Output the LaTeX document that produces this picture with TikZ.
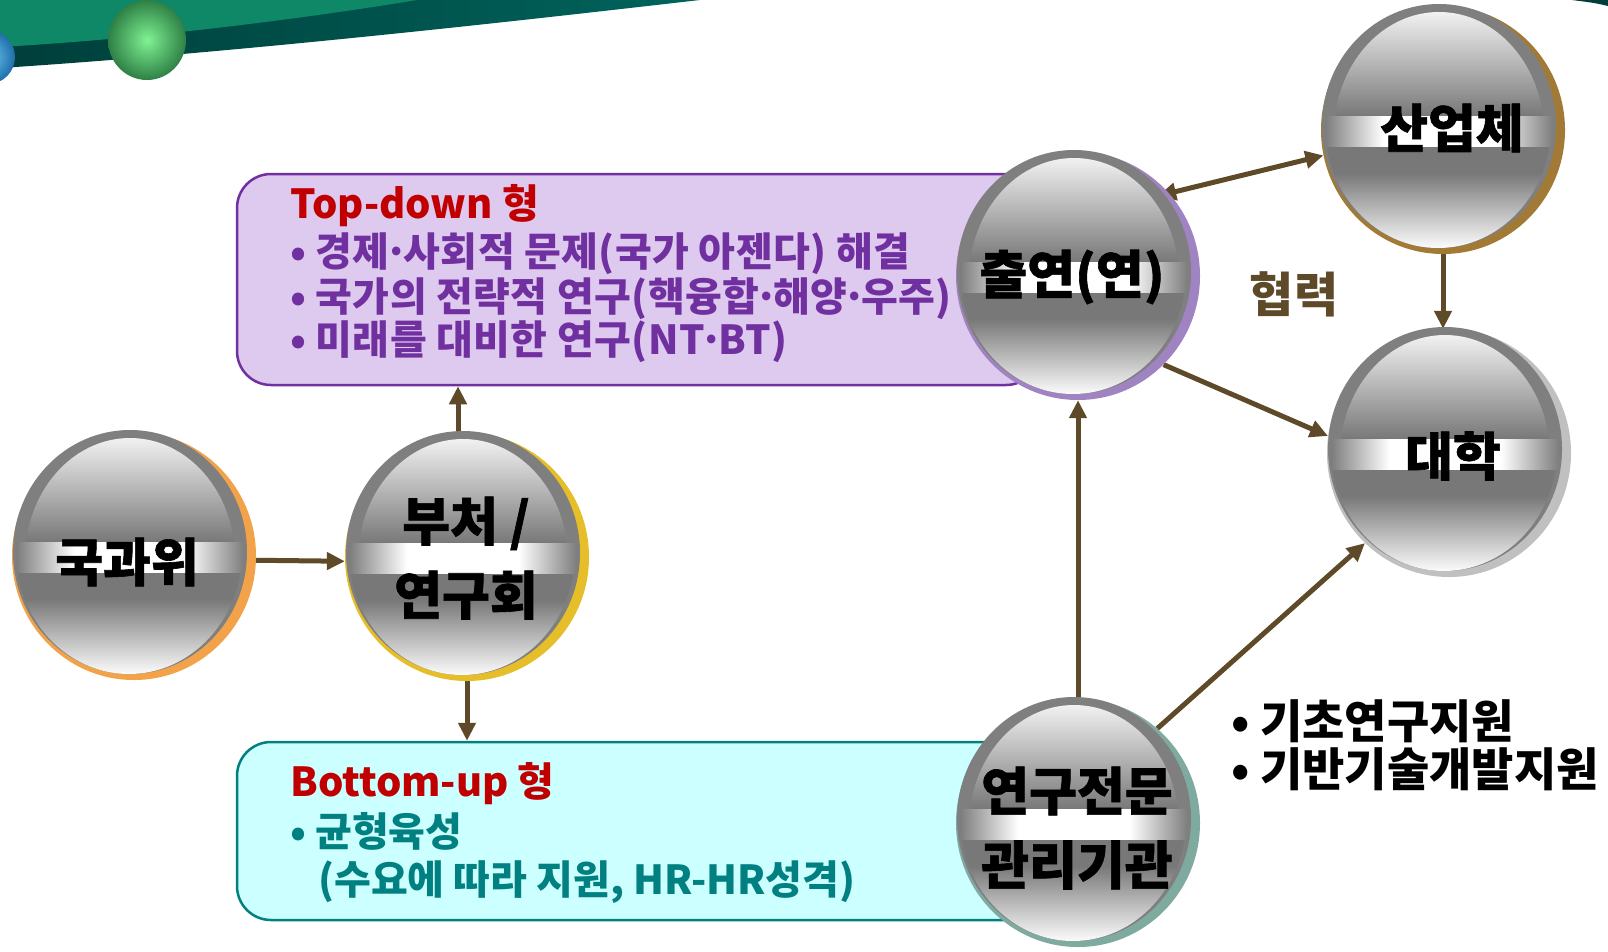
\documentclass[tikz,border=0pt]{standalone}
\usepackage{fontspec}
\newfontfamily\kr{Noto Sans CJK KR}
\newfontfamily\krsp{Noto Sans CJK KR}[LetterSpace=1]
\newfontfamily\krh{Noto Sans CJK KR}[BoldFeatures={FakeBold=1.2}]
\usetikzlibrary{shapes.geometric,arrows.meta,calc}
\definecolor{arrowc}{RGB}{94,74,40}
\definecolor{rimg}{RGB}{127,127,127}
\definecolor{gmid}{RGB}{120,120,120}
\definecolor{ringorange}{RGB}{242,163,74}
\definecolor{ringgold}{RGB}{230,190,42}
\definecolor{ringpurple}{RGB}{160,132,194}
\definecolor{ringbrown}{RGB}{162,122,53}
\definecolor{ringgray}{RGB}{192,192,192}
\definecolor{ringteal}{RGB}{127,170,160}
\definecolor{tdfill}{RGB}{222,201,239}
\definecolor{tdline}{RGB}{112,48,160}
\definecolor{bufill}{RGB}{204,255,255}
\definecolor{buline}{RGB}{0,128,128}
\definecolor{titlered}{RGB}{192,0,0}
\definecolor{swgreen}{RGB}{14,136,102}
\definecolor{swdarkl}{RGB}{0,62,58}
\definecolor{swdarkr}{RGB}{0,100,92}
\definecolor{gballin}{RGB}{127,242,147}
\definecolor{gballout}{RGB}{46,128,69}
\definecolor{bballin}{RGB}{110,200,240}
\definecolor{bballout}{RGB}{30,110,170}
\pgfdeclareverticalshading{ballup}{100bp}{color(0bp)=(gmid); color(25bp)=(gmid); color(75bp)=(white); color(100bp)=(white)}
\pgfdeclareverticalshading{balldown}{100bp}{color(0bp)=(white); color(25bp)=(white); color(62bp)=(gmid); color(100bp)=(gmid)}
\pgfdeclarehorizontalshading{ballband}{100bp}{color(0bp)=(gmid); color(25bp)=(gmid); color(38bp)=(white); color(62bp)=(white); color(75bp)=(gmid); color(100bp)=(gmid)}
\pgfdeclarelayer{back}
\pgfdeclarelayer{arrows}
\pgfdeclarelayer{balls}
\pgfsetlayers{back,arrows,balls,main}
\newcommand\ballfont{\krh\bfseries\fontsize{52}{74}\selectfont}
\newcommand\mdot{\makebox[0.35em][c]{·}}
\newcommand\drawball[2]{%
  \begin{scope}[shift={(#1.center)}]
    \fill[#2] (0,0) ellipse [x radius=122, y radius=124];
    \fill[rimg] (-4,-4) ellipse [x radius=117, y radius=122];
    \begin{scope}
      \clip (-4,3) ellipse [x radius=105, y radius=121];
      \shade[shading=ballup] (-130,-130) rectangle (130,-14);
    \end{scope}
    \begin{scope}
      \clip (-5,-4) ellipse [x radius=113, y radius=122];
      \shade[shading=balldown] (-130,16) rectangle (130,120);
    \end{scope}
    \begin{scope}
      \clip (-4,-4) ellipse [x radius=114, y radius=122];
      \shade[shading=ballband] (-120,-14) rectangle (112,16);
    \end{scope}
  \end{scope}}
\begin{document}
\begin{tikzpicture}[x=1pt,y=-1pt,
  ball/.style={shape=ellipse, minimum width=244pt, minimum height=248pt, inner sep=0pt},
  ballt/.style={font=\ballfont, align=center, inner sep=0pt, text=black},
  arr/.style={draw=arrowc, line width=5pt, -{Triangle[length=18pt,width=17pt]}},
  arrtwo/.style={draw=arrowc, line width=5pt, {Triangle[length=18pt,width=17pt]}-{Triangle[length=18pt,width=17pt]}},
  boxtitle/.style={anchor=base west, inner sep=0pt, text=titlered, font=\kr\bfseries\fontsize{40}{48}\selectfont},
  tdtext/.style={anchor=base west, inner sep=0pt, text=tdline, font=\krsp\bfseries\fontsize{40}{48}\selectfont},
  butext/.style={anchor=base west, inner sep=0pt, text=buline, font=\kr\bfseries\fontsize{40}{48}\selectfont},
  righttext/.style={anchor=base west, inner sep=0pt, text=black, font=\kr\bfseries\fontsize{46}{54}\selectfont}]
\useasboundingbox (0,0) rectangle (1608,951);

% sphere nodes
\node[ball, label={[ballt,xshift=-7pt,yshift=-6pt]center:국과위}] (kgw) at (134,556) {};
\node[ball, label={[ballt,xshift=-1pt,yshift=-1pt]center:{부처 /\\연구회}}] (bc) at (467,557) {};
\node[ball, label={[ballt,xshift=-6pt,yshift=-1pt]center:출연(연)}] (cy) at (1078,276) {};
\node[ball, label={[ballt,xshift=9pt,yshift=2pt]center:산업체}] (sy) at (1443,130) {};
\node[ball, label={[ballt,xshift=4pt,yshift=-3pt]center:대학}] (dh) at (1449,453) {};
\node[ball, label={[ballt,xshift=-1pt,yshift=-5pt]center:{연구전문\\관리기관}}] (yg) at (1078,823) {};

% background decoration and boxes
\begin{pgfonlayer}{back}
  \shade[left color=swdarkl, right color=swdarkr] (0,0) -- (700,0) .. controls (560,16) and (250,52) .. (0,68) -- cycle;
  \fill[swgreen] (0,0) -- (417,0) .. controls (320,16) and (160,38) .. (0,47) -- cycle;
  \fill[swdarkl] (1572,0) -- (1608,0) -- (1608,6) .. controls (1595,3) .. (1572,0) -- cycle;
  \shade[inner color=bballin, outer color=bballout] (-12,57) circle [radius=27];
  \shade[inner color=gballin, outer color=gballout] (147,40) ellipse [x radius=39, y radius=40];
  \node[draw=tdline, fill=tdfill, line width=2.5pt, rounded corners=34pt, minimum width=803pt, minimum height=211pt, inner sep=0pt] (td) at (638.5,279.5) {};
  \node[draw=buline, fill=bufill, line width=2.5pt, rounded corners=34pt, minimum width=803pt, minimum height=178pt, inner sep=0pt] (bu) at (638.5,831) {};
\end{pgfonlayer}

% box texts
\node[boxtitle] (tdt) at (290,218) {Top-down 형};
\node[tdtext] (td1) at (290,266) {• 경제\mdot 사회적 문제(국가 아젠다) 해결};
\node[tdtext] (td2) at (290,311) {• 국가의 전략적 연구(핵융합\mdot 해양\mdot 우주)};
\node[tdtext] (td3) at (290,354) {• 미래를 대비한 연구(NT\mdot BT)};
\node[boxtitle] (but) at (290,796) {Bottom-up 형};
\node[butext] (bu1) at (290,846) {• 균형육성};
\node[butext] (bu2) at (318,894) {(수요에 따라 지원, HR-HR성격)};
\node[righttext] (r1) at (1231,738) {• 기초연구지원};
\node[righttext] (r2) at (1231,786) {• 기반기술개발지원};
\node[anchor=base, inner sep=0pt, text=arrowc, font=\kr\bfseries\fontsize{48}{56}\selectfont] (hr) at (1294,312) {협력};

% arrows
\coordinate (bcup) at ([xshift=-9pt]bc.north);
\coordinate (cyne) at ([shift={(-7pt,-7pt)}]cy.45);
\begin{pgfonlayer}{arrows}
  \draw[arr] (kgw.-2.5) -- (bc.182.5);
  \draw[arr] (bcup) -- (bcup |- td.south);
  \draw[arr] (bc.south) -- (bc.south |- bu.north);
  \draw[arr] (yg.north) -- (cy.south);
  \draw[arr] (yg.50) -- (dh.227);
  \draw[arr] (cy.-46) -- (dh.172);
  \draw[arrtwo] (cyne) -- (sy.192);
  \draw[arr] (sy.south) -- (sy.south |- dh.north);
\end{pgfonlayer}

% sphere graphics
\begin{pgfonlayer}{balls}
  \drawball{kgw}{ringorange}
  \drawball{bc}{ringgold}
  \drawball{cy}{ringpurple}
  \drawball{sy}{ringbrown}
  \drawball{dh}{ringgray}
  \drawball{yg}{ringteal}
\end{pgfonlayer}
\end{tikzpicture}
\end{document}
